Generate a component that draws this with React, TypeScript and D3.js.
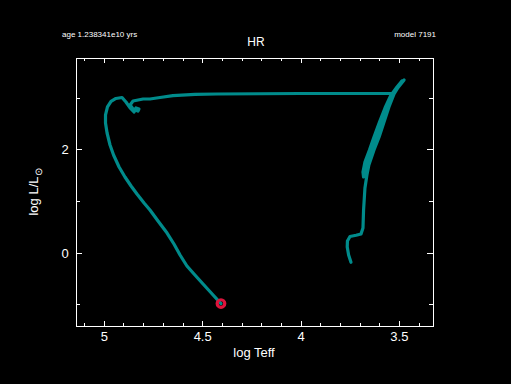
import React from "react";
import * as d3 from "d3";

const logTeff = [
  3.746, 3.758, 3.765, 3.764, 3.751, 3.72, 3.695, 3.685, 3.682, 3.675, 3.665, 3.655, 3.629, 3.603, 3.578, 3.553, 3.527, 3.502, 3.476,
  3.537, 3.563, 3.588, 3.614, 3.639, 3.662, 3.677, 3.682,
  3.685, 3.675, 3.652, 3.629, 3.601, 3.573, 3.545, 3.512, 3.487,
  3.517, 3.537, 3.568, 4.005, 4.427, 4.539, 4.651, 4.717, 4.768, 4.803, 4.854, 4.869, 4.854, 4.829, 4.824, 4.839,
  4.849, 4.869, 4.89, 4.91, 4.941, 4.966, 4.984, 4.994, 4.994, 4.986, 4.971, 4.953, 4.925, 4.895, 4.864, 4.834, 4.798,
  4.768, 4.727, 4.681, 4.646, 4.615, 4.58, 4.544, 4.498, 4.447, 4.407,
];
const logL = [
  -0.181, -0.039, 0.117, 0.233, 0.32, 0.344, 0.369, 0.485, 0.835, 1.262, 1.515, 1.709, 2.0, 2.252, 2.544, 2.835, 3.087, 3.243, 3.359,
  3.068, 2.835, 2.563, 2.272, 2.0, 1.748, 1.553, 1.476,
  1.573, 1.767, 2.0, 2.252, 2.544, 2.816, 3.049, 3.223, 3.34,
  3.184, 3.097, 3.097, 3.097, 3.087, 3.078, 3.054, 3.019, 2.99, 2.99, 2.951, 2.874, 2.796, 2.757, 2.796, 2.816,
  2.738, 2.816, 2.932, 3.019, 3.0, 2.942, 2.835, 2.68, 2.524, 2.33, 2.097, 1.903, 1.67, 1.476, 1.301, 1.146, 0.971,
  0.835, 0.621, 0.388, 0.175, -0.039, -0.252, -0.408, -0.602, -0.816, -0.981,
];

const xMajor = [5, 4.5, 4, 3.5];
const xMajorLabels = ["5", "4.5", "4", "3.5"];
const xMinor = [5.1, 4.9, 4.8, 4.7, 4.6, 4.4, 4.3, 4.2, 4.1, 3.9, 3.8, 3.7, 3.6, 3.4];
const yMajor = [0, 2];
const yMajorLabels = ["0", "2"];
const yMinor = [-1, 1, 3];

const ageText = "age 1.238341e10 yrs";
const modelText = "model 7191";
const titleText = "HR";

export default function App() {
  const W = 511, H = 384;
  const L = 76, R = 433, T = 58, B = 326;
  const x = d3.scaleLinear().domain([5.144, 3.329]).range([L, R]);
  const y = d3.scaleLinear().domain([-1.417, 3.786]).range([B, T]);
  const pts: [number, number][] = logTeff.map((t, i) => [t, logL[i]]);
  const line = d3
    .line<[number, number]>()
    .x((d) => x(d[0]))
    .y((d) => y(d[1]))
    .curve(d3.curveLinear);
  const last = pts[pts.length - 1];
  const font = "'Liberation Sans', Arial, sans-serif";
  const white = "#ffffff";
  return (
    <div style={{ position: "fixed", left: 0, top: 0, width: W, height: H, background: "#000" }}>
      <svg width={W} height={H} style={{ display: "block" }}>
        <rect x={0} y={0} width={W} height={H} fill="#000" />
        <text x={62} y={37} fill={white} fontSize={8} fontFamily={font}>{ageText}</text>
        <text x={436} y={37} fill={white} fontSize={8} fontFamily={font} textAnchor="end">{modelText}</text>
        <text x={256} y={46} fill={white} fontSize={12} fontFamily={font} textAnchor="middle">{titleText}</text>
        <path d={line(pts) || ""} fill="none" stroke="#008b8b" strokeWidth={3.2} strokeLinejoin="round" strokeLinecap="round" />
        <circle cx={x(last[0])} cy={y(last[1])} r={3.8} fill="none" stroke="#dc143c" strokeWidth={3.2} />
        <rect x={L} y={T} width={R - L} height={B - T} fill="none" stroke={white} strokeWidth={1} shapeRendering="crispEdges" />
        {xMajor.map((v) => (
          <g key={"xm" + v}>
            <line x1={x(v)} x2={x(v)} y1={B} y2={B - 5} stroke={white} shapeRendering="crispEdges" />
            <line x1={x(v)} x2={x(v)} y1={T} y2={T + 5} stroke={white} shapeRendering="crispEdges" />
          </g>
        ))}
        {xMinor.map((v) => (
          <g key={"xn" + v}>
            <line x1={x(v)} x2={x(v)} y1={B} y2={B - 3} stroke={white} shapeRendering="crispEdges" />
            <line x1={x(v)} x2={x(v)} y1={T} y2={T + 3} stroke={white} shapeRendering="crispEdges" />
          </g>
        ))}
        {xMajor.map((v, i) => (
          <text key={"xl" + v} x={x(v)} y={341} fill={white} fontSize={13} fontFamily={font} textAnchor="middle">{xMajorLabels[i]}</text>
        ))}
        {yMajor.map((v) => (
          <g key={"ym" + v}>
            <line x1={L} x2={L + 6} y1={y(v)} y2={y(v)} stroke={white} shapeRendering="crispEdges" />
            <line x1={R} x2={R - 6} y1={y(v)} y2={y(v)} stroke={white} shapeRendering="crispEdges" />
          </g>
        ))}
        {yMinor.map((v) => (
          <g key={"yn" + v}>
            <line x1={L} x2={L + 4} y1={y(v)} y2={y(v)} stroke={white} shapeRendering="crispEdges" />
            <line x1={R} x2={R - 4} y1={y(v)} y2={y(v)} stroke={white} shapeRendering="crispEdges" />
          </g>
        ))}
        {yMajor.map((v, i) => (
          <text key={"yl" + v} x={65} y={y(v) + 4.5} fill={white} fontSize={13} fontFamily={font} textAnchor="middle">{yMajorLabels[i]}</text>
        ))}
        <text x={254} y={357} fill={white} fontSize={13} fontFamily={font} textAnchor="middle">log Teff</text>
        <text transform="translate(38,192) rotate(-90)" fill={white} fontSize={13} fontFamily={font} textAnchor="middle">
          log L/L<tspan fontSize={10} dy={4}>⊙</tspan>
        </text>
      </svg>
    </div>
  );
}
